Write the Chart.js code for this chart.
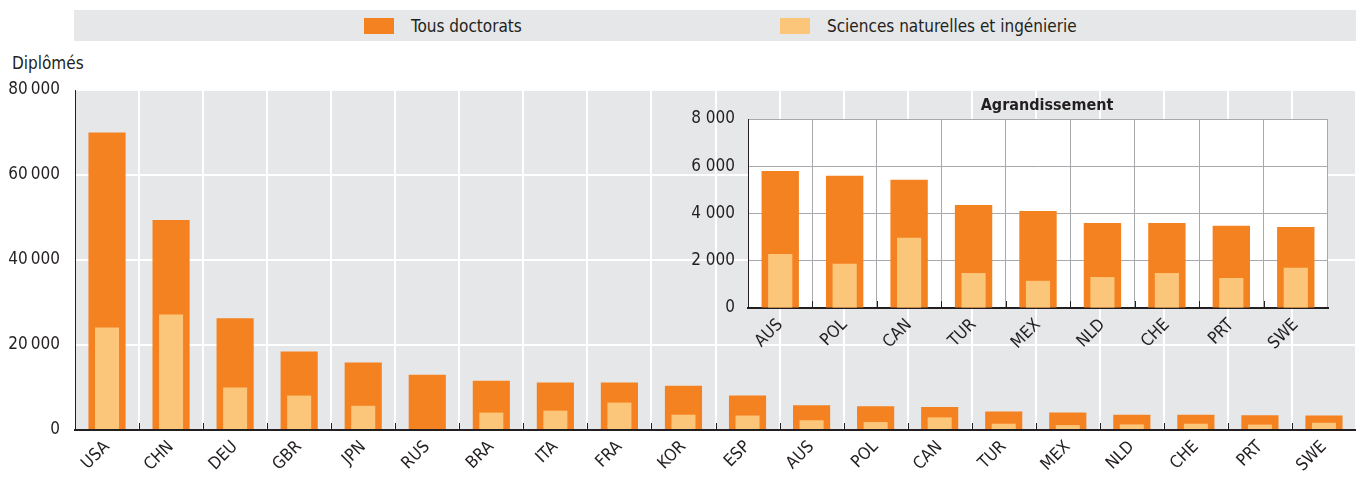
<!DOCTYPE html>
<html>
<head>
<meta charset="utf-8">
<script src="https://cdn.jsdelivr.net/npm/chart.js@4/dist/chart.umd.min.js"></script>
<style>
  body { margin: 0; background: #fff; font-family: 'Liberation Sans Narrow', 'Arial Narrow', 'DejaVu Sans Condensed', sans-serif; }
  #wrap { position: relative; width: 1356px; height: 479px; }
  #mainChart { position: absolute; left: 0; top: 0; }
  #insetChart { position: absolute; left: 680px; top: 90px; }
  #legend { position: absolute; left: 74px; top: 10px; width: 1282px; height: 31px; background: #e6e7e8; }
  .item { position: absolute; top: 0; height: 31px; display: flex; align-items: center; font-size: 17px; color: #231f20; }
  .swatch { width: 30px; height: 16px; margin-right: 17px; }
  #ytitle { position: absolute; left: 12px; top: 53px; font-size: 17px; color: #231f20; }
</style>
</head>
<body>
<div id="wrap">
  <div id="legend"></div>
  <div id="ytitle">Diplômés</div>
  <canvas id="mainChart" width="1356" height="479"></canvas>
  <canvas id="insetChart" width="660" height="275"></canvas>
</div>
<script>

const countries = ["USA","CHN","DEU","GBR","JPN","RUS","BRA","ITA","FRA","KOR","ESP","AUS","POL","CAN","TUR","MEX","NLD","CHE","PRT","SWE"];
const tousDoctorats = [70000, 49400, 26300, 18500, 15900, 13000, 11600, 11200, 11200, 10400, 8100, 5800, 5600, 5430, 4360, 4110, 3600, 3600, 3480, 3430];
const sciencesNat = [24100, 27200, 10000, 8100, 5700, null, 4100, 4550, 6450, 3600, 3400, 2290, 1870, 2970, 1480, 1150, 1310, 1480, 1270, 1700];
const seriesNames = ["Tous doctorats", "Sciences naturelles et ingénierie"];
const seriesColors = ["#f58220", "#fbc57a"];
const mainTicks = [0, 20000, 40000, 60000, 80000];
const insetTicks = [0, 2000, 4000, 6000, 8000];
const insetStart = 11; // AUS onwards

const FONT = "'Liberation Sans Narrow', 'Arial Narrow', 'DejaVu Sans Condensed', sans-serif";
const TXT = "#231f20";

function fmt(v, sep){
    return String(v).replace(/\B(?=(\d{3})+(?!\d))/g, sep);
}

function makeDatasets(a, b){
    return [
        { label: seriesNames[0], data: a, backgroundColor: seriesColors[0], barPercentage: 0.58, categoryPercentage: 1, grouped: false, order: 2 },
        { label: seriesNames[1], data: b, backgroundColor: seriesColors[1], barPercentage: 0.375, categoryPercentage: 1, grouped: false, order: 1 }
    ];
}

// plot background
const plotBg = {
    id: "plotBg",
    beforeDraw(chart, args, opts){
        const a = chart.chartArea, c = chart.ctx;
        c.save();
        c.fillStyle = opts.color;
        c.fillRect(a.left, a.top, a.right - a.left, a.bottom - a.top);
        c.restore();
    }
};

// small ticks on the baseline at category boundaries
const baseTicks = {
    id: "baseTicks",
    afterDatasetsDraw(chart){
        const x = chart.scales.x, a = chart.chartArea, c = chart.ctx;
        c.save();
        c.strokeStyle = "#231f20";
        c.lineWidth = 1;
        for(let i = 1; i < x.ticks.length; i++){
            const px = Math.round((x.getPixelForTick(i - 1) + x.getPixelForTick(i)) / 2) + 0.5;
            c.beginPath();
            c.moveTo(px, a.bottom);
            c.lineTo(px, a.bottom - 7);
            c.stroke();
        }
        c.restore();
    }
};

const insetTitle = {
    id: "insetTitle",
    afterDraw(chart){
        const a = chart.chartArea, c = chart.ctx;
        c.save();
        c.font = "bold 16px " + FONT;
        c.fillStyle = TXT;
        c.textAlign = "center";
        c.textBaseline = "bottom";
        c.fillText("Agrandissement", (a.left + a.right) / 2 + 9, a.top - 5);
        c.restore();
    }
};

const mainChart = new Chart(document.getElementById("mainChart"), {
    type: "bar",
    data: { labels: countries, datasets: makeDatasets(tousDoctorats, sciencesNat) },
    options: {
        responsive: false,
        animation: false,
        devicePixelRatio: 1,
        layout: { padding: { top: 90, right: 0, left: 0, bottom: 0 } },
        plugins: { legend: { display: false }, tooltip: { enabled: false }, plotBg: { color: "#e6e7e8" } },
        scales: {
            x: {
                grid: { color: "#ffffff", lineWidth: 2, offset: true, drawTicks: false },
                border: { color: "#231f20", width: 2 },
                ticks: { color: TXT, font: { family: FONT, size: 17 }, maxRotation: 45, minRotation: 45, padding: 7 },
                afterFit(s){ s.height = 49; }
            },
            y: {
                min: 0, max: 80000,
                afterBuildTicks(s){ s.ticks = mainTicks.map(v => ({ value: v })); },
                grid: { color: "#ffffff", lineWidth: 2, drawTicks: false },
                border: { color: "#231f20", width: 1 },
                ticks: { color: TXT, font: { family: FONT, size: 17 }, padding: 15, callback: v => fmt(v, "\u2009") },
                afterFit(s){ s.width = 75; }
            }
        }
    },
    plugins: [plotBg, baseTicks]
});

const insetChart = new Chart(document.getElementById("insetChart"), {
    type: "bar",
    data: {
        labels: countries.slice(insetStart),
        datasets: makeDatasets(tousDoctorats.slice(insetStart), sciencesNat.slice(insetStart))
    },
    options: {
        responsive: false,
        animation: false,
        devicePixelRatio: 1,
        layout: { padding: { top: 29, right: 12, left: 0, bottom: 0 } },
        plugins: { legend: { display: false }, tooltip: { enabled: false }, plotBg: { color: "#ffffff" } },
        scales: {
            x: {
                grid: { color: "#a7a9ac", lineWidth: 1, offset: true, drawTicks: false },
                border: { color: "#231f20", width: 2 },
                ticks: { color: TXT, font: { family: FONT, size: 17 }, maxRotation: 45, minRotation: 45, padding: 7 },
                afterFit(s){ s.height = 57; }
            },
            y: {
                min: 0, max: 8000,
                afterBuildTicks(s){ s.ticks = insetTicks.map(v => ({ value: v })); },
                grid: { color: "#a7a9ac", lineWidth: 1, drawTicks: false },
                border: { color: "#231f20", width: 1 },
                ticks: { color: TXT, font: { family: FONT, size: 17 }, padding: 13, callback: v => fmt(v, " ") },
                afterFit(s){ s.width = 68; }
            }
        }
    },
    plugins: [plotBg, baseTicks, insetTitle]
});

// legend built from the dataset definitions
const legend = document.getElementById("legend");
const legendLeft = [290, 706];
mainChart.data.datasets.forEach((ds, i) => {
    const item = document.createElement("div");
    item.className = "item";
    item.style.left = legendLeft[i] + "px";
    item.innerHTML = `<span class="swatch" style="background:${ds.backgroundColor}"></span><span>${ds.label}</span>`;
    legend.appendChild(item);
});
</script>
</body>
</html>
